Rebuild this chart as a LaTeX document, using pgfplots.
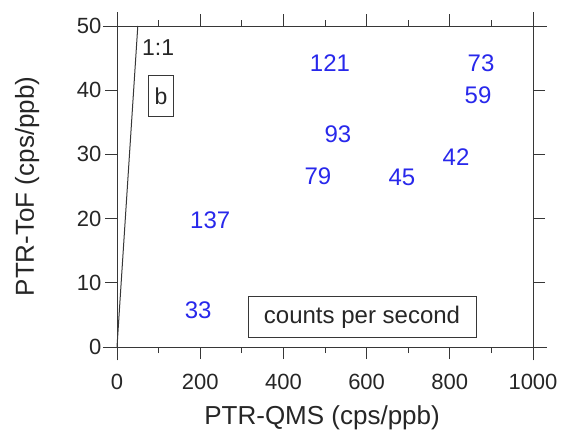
\documentclass[border=0pt]{standalone}
\usepackage{pgfplots}
\usepackage{pgfplotstable}
\pgfplotsset{compat=1.18}
\usepackage{fontspec}
\setmainfont{Liberation Sans}
\definecolor{lblblue}{RGB}{40,40,235}
\definecolor{axgray}{RGB}{55,55,55}
\pgfplotstableread{
x y label
512 44.2 121
875 44.2 73
868 39.2 59
531 33.2 93
815 29.6 42
483 26.6 79
685 26.5 45
224 19.8 137
195 5.8 33
}\labeldata
\begin{document}
\begin{tikzpicture}[x=1pt,y=1pt]
\path[use as bounding box] (0,0) rectangle (564,432);
\begin{axis}[
  at={(117pt,85pt)}, anchor=south west,
  scale only axis, width=416pt, height=321pt,
  xmin=0, xmax=1000, ymin=0, ymax=50,
  xtick={0,200,...,1000}, ytick={0,10,...,50},
  minor x tick num=1,
  tick align=outside,
  major tick length=12pt, minor tick length=6pt,
  tick style={axgray, line width=0.9pt},
  axis line style={axgray, line width=1pt},
  clip=false,
  /pgf/number format/assume math mode=true,
  /pgf/number format/1000 sep={},
  ticklabel style={font=\fontsize{22}{26}\selectfont, text=black!85},
  xticklabel style={yshift=-12pt},
  xlabel={PTR-QMS (cps/ppb)},
  ylabel={PTR-ToF (cps/ppb)},
  label style={font=\fontsize{26}{30}\selectfont, text=black!85},
  xlabel style={at={(axis description cs:0.493,-0.221)}, anchor=center},
  ylabel style={at={(axis description cs:-0.216,0.5)}, anchor=center, rotate=0},
]
\draw[axgray, line width=1pt] (rel axis cs:-0.034,0) -- (rel axis cs:1.034,0);
\draw[axgray, line width=1pt] (rel axis cs:-0.034,1) -- (rel axis cs:1.034,1);
\draw[axgray, line width=1pt] (rel axis cs:0,-0.042) -- (rel axis cs:0,1.045);
\draw[axgray, line width=1pt] (rel axis cs:1,-0.042) -- (rel axis cs:1,1.045);
\addplot[axgray, line width=1pt, mark=none] coordinates {(0,0) (50,50)};
\addplot[draw=none, mark=none, nodes near coords, point meta=explicit symbolic,
  nodes near coords align=center,
  nodes near coords style={font=\fontsize{24}{28}\selectfont, text=lblblue, anchor=center}]
  table[x=x, y=y, meta=label] {\labeldata};
\node[font=\fontsize{23}{27}\selectfont, text=black!85] at (axis cs:99,46.6) {1:1};
\node[font=\fontsize{23}{27}\selectfont, text=black!85, draw=axgray, line width=0.9pt,
  minimum width=25pt, minimum height=41pt, inner sep=2pt] at (axis cs:106,39.1) {b};
\node[font=\fontsize{24}{28}\selectfont, text=black!85, draw=axgray, line width=0.9pt,
  minimum width=228pt, minimum height=41pt, inner sep=2pt] at (axis cs:589,4.7) {counts per second};
\end{axis}
\end{tikzpicture}
\end{document}
